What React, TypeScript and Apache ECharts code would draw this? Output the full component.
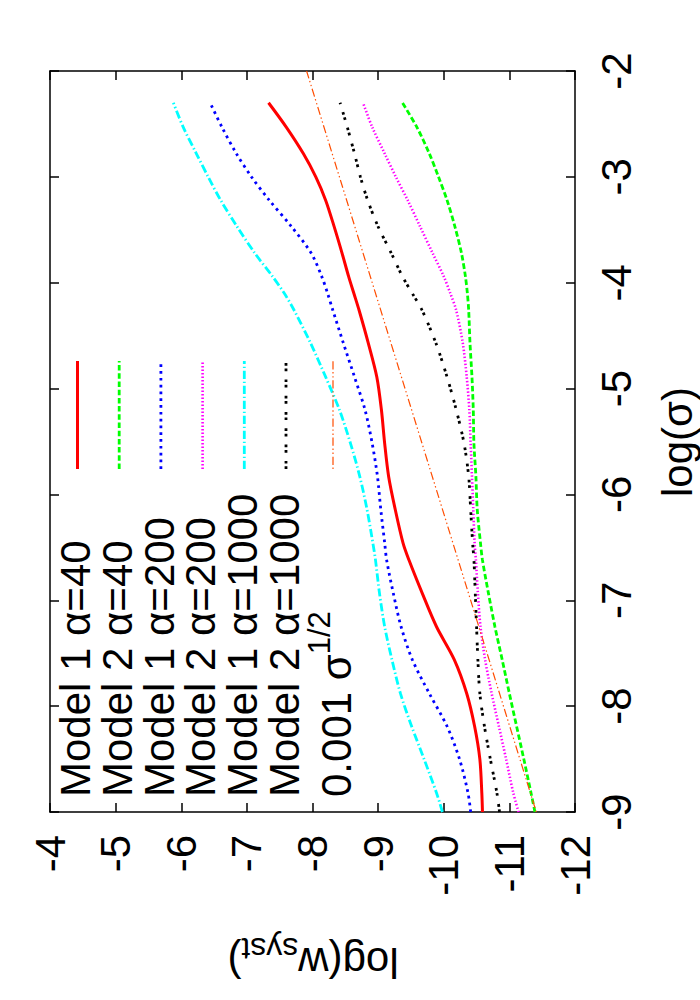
import React, { useEffect, useRef } from "react";
import * as echarts from "echarts";

// log(sigma) sample positions (vertical axis, right side)
const logSigma = [-9.0, -8.82, -8.5, -8.19, -7.88, -7.56, -7.25, -6.93, -6.62, -6.46, -6.14, -5.83, -5.52, -5.2, -4.89, -4.57, -4.26, -4.1, -3.94, -3.72, -3.47, -3.22, -3.0, -2.78, -2.53, -2.3];

// log(w_syst) values (horizontal axis, bottom)
const model1Alpha40 = [-10.59, -10.58, -10.55, -10.47, -10.35, -10.16, -9.89, -9.67, -9.47, -9.38, -9.26, -9.16, -9.1, -9.05, -8.98, -8.85, -8.71, -8.63, -8.55, -8.45, -8.33, -8.2, -8.05, -7.86, -7.6, -7.33];
const model2Alpha40 = [-11.39, -11.33, -11.22, -11.11, -11.0, -10.89, -10.78, -10.68, -10.59, -10.56, -10.51, -10.49, -10.46, -10.45, -10.43, -10.4, -10.38, -10.36, -10.33, -10.27, -10.17, -10.05, -9.92, -9.78, -9.59, -9.37];
const model1Alpha200 = [-10.41, -10.37, -10.24, -10.05, -9.78, -9.52, -9.35, -9.23, -9.13, -9.1, -9.04, -8.99, -8.91, -8.8, -8.64, -8.47, -8.31, -8.23, -8.14, -7.98, -7.68, -7.34, -7.07, -6.84, -6.62, -6.44];
const model2Alpha200 = [-11.14, -11.06, -10.95, -10.84, -10.73, -10.63, -10.56, -10.52, -10.49, -10.47, -10.45, -10.43, -10.41, -10.39, -10.35, -10.29, -10.19, -10.1, -10.0, -9.83, -9.64, -9.45, -9.27, -9.1, -8.91, -8.77];
const model1Alpha1000 = [-9.98, -9.89, -9.7, -9.51, -9.34, -9.21, -9.1, -9.02, -8.96, -8.92, -8.83, -8.72, -8.58, -8.41, -8.2, -7.97, -7.72, -7.57, -7.39, -7.12, -6.85, -6.6, -6.41, -6.23, -6.03, -5.88];
const model2Alpha1000 = [-10.85, -10.81, -10.71, -10.62, -10.55, -10.52, -10.5, -10.48, -10.46, -10.44, -10.41, -10.38, -10.31, -10.19, -10.05, -9.88, -9.67, -9.52, -9.37, -9.2, -9.0, -8.84, -8.73, -8.64, -8.53, -8.42];

// reference line 0.001 sigma^(1/2): end points
const refSigma = [-9.0, -2.0];
const refW = [-11.41, -7.91];

const legendLabels = [
  "Model 1 α=40",
  "Model 2 α=40",
  "Model 1 α=200",
  "Model 2 α=200",
  "Model 1 α=1000",
  "Model 2 α=1000",
];

const seriesValues = [model1Alpha40, model2Alpha40, model1Alpha200, model2Alpha200, model1Alpha1000, model2Alpha1000];

// styles (gnuplot postscript line types)
const seriesStyles = [
  { color: "#ff0000", width: 3, dash: "solid" as any },
  { color: "#00ff00", width: 2.8, dash: [5.5, 2.7] },
  { color: "#0000ff", width: 2.8, dash: [2.7, 4.1] },
  { color: "#ff00ff", width: 2.6, dash: [1.4, 2.1] },
  { color: "#00ffff", width: 2.8, dash: [8.2, 2.7, 1.4, 2.7] },
  { color: "#000000", width: 2.8, dash: [2.7, 2.7, 2.7, 8.2] },
];
const refStyle = { color: "#ff4d00", width: 1.2, dash: [1.4, 2.7, 8.2, 2.7, 1.4, 2.7] };

const FONT = "'Liberation Sans', Arial, Helvetica, sans-serif";
const FS = 42;

export default function App() {
  const ref = useRef<HTMLDivElement>(null);

  useEffect(() => {
    if (!ref.current) return;
    const chart = echarts.init(ref.current, null, { renderer: "svg" });

    const frameLine = { show: true, onZero: false, lineStyle: { color: "#000", width: 1.5 } };
    const innerTick = { show: true, inside: true, length: 9, lineStyle: { color: "#000", width: 1.5 } };
    const labelBase = {
      fontSize: FS,
      fontFamily: FONT,
      color: "#000",
      rotate: 90,
      showMinLabel: true,
      showMaxLabel: true,
      hideOverlap: false,
    };

    const xBase = {
      type: "value",
      min: -12,
      max: -4,
      interval: 1,
      inverse: true,
      axisLine: frameLine,
      axisTick: innerTick,
      splitLine: { show: false },
    };
    const yBase = {
      type: "value",
      min: -9,
      max: -2,
      interval: 1,
      axisLine: frameLine,
      axisTick: innerTick,
      splitLine: { show: false },
    };

    const series: any[] = seriesValues.map((vals, i) => ({
      type: "line",
      name: legendLabels[i],
      xAxisIndex: 0,
      yAxisIndex: 0,
      data: logSigma.map((s, k) => [vals[k], s]),
      showSymbol: false,
      symbol: "none",
      smooth: 0.3,
      lineStyle: {
        color: seriesStyles[i].color,
        width: seriesStyles[i].width,
        type: seriesStyles[i].dash,
      },
      z: 2 + i,
    }));
    series.push({
      type: "line",
      name: "0.001 σ^1/2",
      xAxisIndex: 0,
      yAxisIndex: 0,
      data: refSigma.map((s, k) => [refW[k], s]),
      showSymbol: false,
      symbol: "none",
      lineStyle: { color: refStyle.color, width: refStyle.width, type: refStyle.dash },
      z: 10,
    });

    // legend (drawn rotated, as in the reference)
    const legendX0 = 77.5;
    const legendDX = 41.7;
    const sampleTop = 361;
    const sampleBottom = 469;
    const textStartY = 797;
    const graphic: any[] = [];
    legendLabels.forEach((label, i) => {
      const cx = legendX0 + legendDX * i;
      graphic.push({
        type: "line",
        shape: { x1: cx, y1: sampleBottom, x2: cx, y2: sampleTop },
        style: {
          stroke: seriesStyles[i].color,
          lineWidth: seriesStyles[i].width,
          lineDash: seriesStyles[i].dash === "solid" ? null : seriesStyles[i].dash,
        },
        z: 20,
      });
      graphic.push({
        type: "text",
        x: cx - 1.8,
        y: textStartY,
        rotation: Math.PI / 2,
        style: {
          text: label,
          font: `${FS}px ${FONT}`,
          fontSize: FS,
          fontFamily: FONT,
          fill: "#000",
          align: "left",
          verticalAlign: "middle",
        },
        z: 20,
      });
    });
    graphic.push({
      type: "line",
      shape: { x1: 333, y1: sampleBottom, x2: 333, y2: sampleTop },
      style: { stroke: refStyle.color, lineWidth: refStyle.width, lineDash: refStyle.dash },
      z: 20,
    });
    graphic.push({
      type: "text",
      x: 336,
      y: textStartY,
      rotation: Math.PI / 2,
      style: {
        text: "{a|0.001 σ}{b|1/2}",
        align: "left",
        verticalAlign: "middle",
        fill: "#000",
        rich: {
          a: { fontSize: FS, fontFamily: FONT, lineHeight: FS, fill: "#000" },
          b: { fontSize: 31, fontFamily: FONT, lineHeight: FS, fill: "#000", padding: [0, 0, 34, 0] },
        },
      },
      z: 20,
    });

    // axis titles
    graphic.push({
      type: "text",
      x: 677,
      y: 442,
      rotation: Math.PI / 2,
      style: {
        text: "log(σ)",
        font: `${FS}px ${FONT}`,
        fontSize: FS,
        fontFamily: FONT,
        fill: "#000",
        align: "center",
        verticalAlign: "middle",
      },
      z: 20,
    });
    graphic.push({
      type: "text",
      x: 313,
      y: 962,
      rotation: Math.PI,
      style: {
        text: "{a|log(w}{b|syst}{a|)}",
        align: "center",
        verticalAlign: "middle",
        fill: "#000",
        rich: {
          a: { fontSize: FS, fontFamily: FONT, lineHeight: FS, fill: "#000" },
          b: { fontSize: 32, fontFamily: FONT, lineHeight: FS, fill: "#000", padding: [26, 0, 0, 0] },
        },
      },
      z: 20,
    });

    chart.setOption({
      animation: false,
      backgroundColor: "#fff",
      grid: { left: 50, right: 125, top: 71, bottom: 188, containLabel: false },
      xAxis: [
        { ...xBase, position: "bottom", axisLabel: { ...labelBase, margin: 23 } },
        { ...xBase, position: "top", axisLabel: { show: false } },
      ],
      yAxis: [
        { ...yBase, position: "right", axisLabel: { ...labelBase, margin: 20 } },
        { ...yBase, position: "left", axisLabel: { show: false } },
      ],
      series,
      graphic,
    } as any);

    return () => {
      chart.dispose();
    };
  }, []);

  return (
    <div
      ref={ref}
      style={{ position: "absolute", left: 0, top: 0, width: 700, height: 1000, background: "#fff" }}
    />
  );
}
